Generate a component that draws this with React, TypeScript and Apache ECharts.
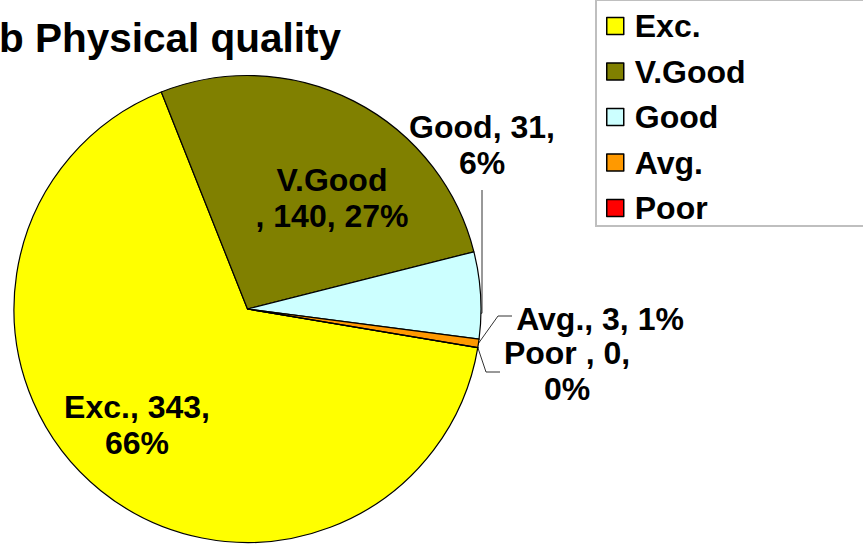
import React, { useEffect, useRef } from "react";
import * as echarts from "echarts";

// ---- data ----
const categories = ["Exc.", "V.Good", "Good", "Avg.", "Poor"];
const counts = [343, 140, 31, 3, 0];
const colors = ["#FFFF00", "#808000", "#CCFFFF", "#FF9900", "#FF0000"];
const titleText = "b Physical quality";

// ---- label layout (text placement, not data) ----
const labelTemplates = [
  "{b}, {c},\n{d}%",
  "{b}\n, {c}, {d}%",
  "{b}, {c},\n{d}%",
  "{b}, {c}, {d}%",
  "{b} , {c},\n{d}%",
];
const labelCenters: number[][] = [
  [137, 425],
  [332, 198],
  [482, 145],
  [600, 319],
  [567, 371],
];
const labelLineHeights = [36, 36, 36, 29, 36];
const showLeader = [false, false, true, true, true];

const FONT = "'Liberation Sans', Arial, Helvetica, sans-serif";

export default function App() {
  const ref = useRef<HTMLDivElement>(null);

  useEffect(() => {
    if (!ref.current) return;
    const chart = echarts.init(ref.current, null, { renderer: "svg" });

    const formatter = (p: any) => {
      const t = labelTemplates[p.dataIndex];
      return t
        .replace("{b}", p.name)
        .replace("{c}", String(p.value))
        .replace("{d}", String(Math.round(p.percent)));
    };

    const labelLayout = (params: any) => {
      const i = params.dataIndex;
      const [cx, cy] = labelCenters[i];
      const res: any = { x: cx, y: cy, align: "center", verticalAlign: "middle" };
      const pts = params.labelLinePoints;
      if (showLeader[i] && pts) {
        const start = pts[0];
        if (i === 2) {
          res.labelLinePoints = [
            [start[0], start[1] + 18],
            [cx, start[1] + 18],
            [cx, cy + 45],
          ];
        } else if (i === 3) {
          res.labelLinePoints = [start, [cx - 102, cy - 3], [cx - 88, cy - 3]];
        } else if (i === 4) {
          res.labelLinePoints = [start, [cx - 81, cy + 1], [cx - 67, cy + 1]];
        }
      }
      return res;
    };

    chart.setOption({
      animation: false,
      backgroundColor: "#ffffff",
      title: {
        text: titleText,
        left: -1,
        top: 17,
        padding: 0,
        textStyle: {
          fontSize: 40.5,
          fontWeight: "bold",
          color: "#000",
          fontFamily: FONT,
        },
      },
      legend: {
        orient: "vertical",
        left: 596,
        top: 0,
        padding: [10, 140, 2, 10],
        itemGap: 13.5,
        itemWidth: 17,
        itemHeight: 17,
        borderColor: "#bfbfbf",
        borderWidth: 2,
        icon: "rect",
        selectedMode: false,
        data: categories,
        itemStyle: { borderColor: "#000", borderWidth: 1.5 },
        textStyle: {
          fontSize: 32,
          fontWeight: "bold",
          color: "#000",
          fontFamily: FONT,
          lineHeight: 30,
          padding: [0, 0, 0, 6],
        },
      },
      series: [
        {
          type: "pie",
          center: [247.5, 309],
          radius: 233.5,
          startAngle: -9.5,
          clockwise: true,
          percentPrecision: 0,
          avoidLabelOverlap: false,
          emphasis: { disabled: true },
          itemStyle: { borderColor: "#000", borderWidth: 1.2 },
          label: {
            show: true,
            formatter,
            fontSize: 32,
            fontWeight: "bold",
            color: "#000",
            fontFamily: FONT,
            lineHeight: 36,
            align: "center",
          },
          labelLine: {
            show: true,
            length: 10,
            length2: 10,
            lineStyle: { color: "#333", width: 1 },
          },
          labelLayout,
          data: categories.map((name, i) => ({
            name,
            value: counts[i],
            itemStyle: { color: colors[i] },
            label: { lineHeight: labelLineHeights[i] },
            labelLine: { show: showLeader[i] },
          })),
        },
      ],
    });

    return () => chart.dispose();
  }, []);

  return (
    <div
      ref={ref}
      style={{ position: "fixed", left: 0, top: 0, width: 863, height: 546, background: "#fff" }}
    />
  );
}
